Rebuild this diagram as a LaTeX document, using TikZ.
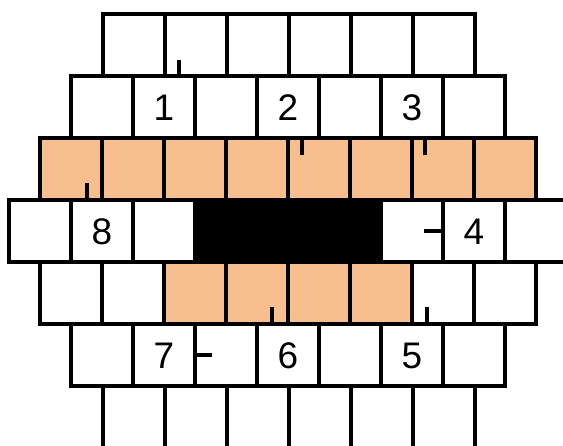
\documentclass[tikz,border=0pt]{standalone}
\usepackage{fontspec}
\setmainfont{Liberation Sans}
\usepackage{tikz}
\definecolor{brickorange}{RGB}{247,190,142}

\begin{document}
\begin{tikzpicture}[x=1pt,y=-1pt,line width=3.3pt,
  brick/.style={draw=black},
  num/.style={font=\fontsize{37}{42}\selectfont,inner sep=0pt}]
\useasboundingbox (0,0) rectangle (563,446);
% courses of bricks, from top to bottom
\foreach \i in {0,...,5} \draw[brick] (103+62*\i,14) rectangle ++(62,62);
\foreach \i in {0,...,6} \draw[brick] (71+62*\i,76) rectangle ++(62,62);
\foreach \i in {0,...,7} \draw[brick,fill=brickorange] (40+62*\i,138) rectangle ++(62,62);
\foreach \i in {0,1,2,6,7,8} \draw[brick] (9+62*\i,200) rectangle ++(62,62);
\draw[brick,fill=black] (195,200) rectangle (381,262);
\foreach \i in {0,1,6,7} \draw[brick] (40+62*\i,262) rectangle ++(62,62);
\foreach \i in {2,...,5} \draw[brick,fill=brickorange] (40+62*\i,262) rectangle ++(62,62);
\foreach \i in {0,...,6} \draw[brick] (71+62*\i,324) rectangle ++(62,62);
\foreach \i in {0,...,5} \draw[brick] (103+62*\i,386) rectangle ++(62,62);
% numbers
\node[num] (n1) at (164,108) {1};
\node[num] (n2) at (288,108) {2};
\node[num] (n3) at (412,108) {3};
\node[num] (n4) at (474,232) {4};
\node[num] (n5) at (412,356) {5};
\node[num] (n6) at (288,356) {6};
\node[num] (n7) at (164,356) {7};
\node[num] (n8) at (102,232) {8};
% small marks
\draw (179,76) -- (179,60);
\draw (302,138) -- (302,155);
\draw (425,138) -- (425,155);
\draw (87,200) -- (87,183);
\draw (443,231) -- (424,231);
\draw (272,324) -- (272,307);
\draw (427,324) -- (427,307);
\draw (195,355) -- (212,355);
\end{tikzpicture}
\end{document}
